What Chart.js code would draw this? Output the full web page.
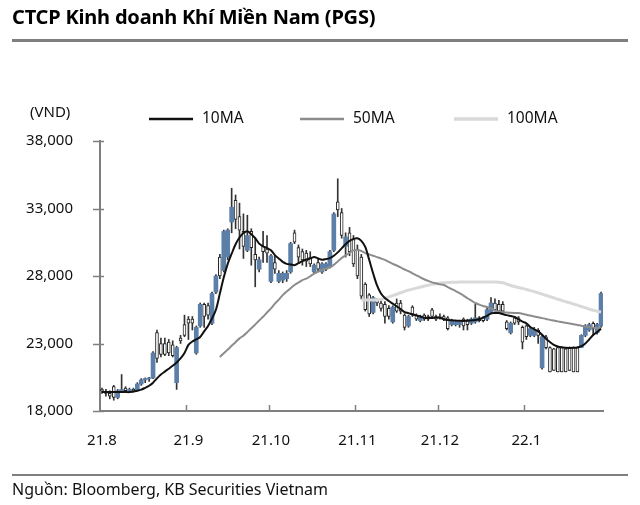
<!DOCTYPE html>
<html><head><meta charset="utf-8">
<script src="https://cdn.jsdelivr.net/npm/chart.js@4.4.0/dist/chart.umd.min.js"></script>
<style>
html,body{margin:0;padding:0;background:#fff;width:640px;height:505px;overflow:hidden;font-family:'Noto Sans',sans-serif;}
#wrap{position:absolute;left:0;top:0;width:640px;height:505px;}
#title{position:absolute;left:12px;top:4px;font-size:20px;font-weight:bold;color:#000;line-height:26px;letter-spacing:-0.2px;}
.rule{position:absolute;left:12px;width:616px;background:#7f7f7f;}
#src{position:absolute;left:12px;top:479px;font-size:16px;color:#111;line-height:20px;}
</style></head>
<body>
<div id="wrap"><canvas id="c" width="640" height="505"></canvas></div>
<div id="title">CTCP Kinh doanh Khí Miền Nam (PGS)</div>
<div class="rule" style="top:39px;height:3px"></div>
<div class="rule" style="top:474px;height:2px"></div>
<div id="src">Nguồn: Bloomberg, KB Securities Vietnam</div>
<script>
// ---- data (VND) ----
const months = ['21.8','21.9','21.10','21.11','21.12','22.1'];
const monthDays = [22,21,22,21,22,20];
const yTicks = [18000,23000,28000,33000,38000];

const openP = [
19600,19400,19300,19800,19000,19500,19700,19500,19600,19500,20000,20300,20400,20450,23800,23000,23000,23100,22900,20100,23400,24400,
24800,24800,22300,24300,25900,25800,24500,26800,29400,28400,29400,32000,33600,32400,31300,29900,31300,29600,28500,30200,30000,
27600,29000,27600,27700,27800,28300,31200,30100,29800,29700,29400,28300,29000,28300,28500,28700,29900,33500,32700,30200,31200,30700,
30000,29400,27400,26600,25300,26200,26000,25900,25600,24600,26000,26000,25100,24300,25700,25100,24700,25100,25000,25500,25000,
25000,25000,24900,24400,24400,24400,24800,24700,24500,24600,24900,24900,24800,25300,26000,25900,25900,24600,23800,24900,24900,24200,
24300,23600,23600,24000,21200,23500,22700,22600,22700,22700,22600,22700,22700,22700,22700,23600,24000,24500,23800,24300];
const highP = [
19700,19600,19500,19900,19600,20700,19800,19700,19700,20100,20400,20450,20500,22400,24000,23400,23400,23300,23200,22800,23600,25100,
25000,25000,24300,26000,26000,26000,26800,28100,29600,31400,31500,34500,34000,33400,32600,32500,31500,30800,29400,31300,31000,
29600,29500,28400,28300,28400,30500,31400,30300,30000,29900,29800,28900,29300,29000,29000,29900,32700,35200,33000,31200,31600,31000,
30300,29600,27500,26700,26500,26300,26300,26100,25800,25800,26300,26200,25200,25100,25800,25200,25100,25200,25100,25600,25100,
25200,25100,25000,24800,24700,24700,24900,24800,24900,25900,25000,25000,25600,26400,26300,26200,26100,24700,24600,25000,25000,24300,
24400,24200,24200,24100,23600,23600,22750,22650,22750,22750,22650,22750,22750,22750,23650,24400,24500,24600,24500,26800];
const lowP = [
19300,19100,18900,18800,18900,19400,19400,19400,19400,19500,19900,20100,20200,20400,21600,22000,22100,22100,22000,19600,23000,23500,
23300,24000,22200,24200,24200,24800,24400,26700,27800,28300,29200,31200,31500,30000,29300,29800,28800,27200,28300,29000,29000,
27500,28200,27500,27500,27600,28200,30400,29000,28800,28700,28700,28200,28300,28200,28400,28600,29800,32400,30800,29400,29500,28700,
27800,26300,25400,25000,25200,25800,25400,24500,24800,24500,25300,25200,24000,24200,25000,24700,24600,24700,24700,24900,24700,
24800,24700,24000,24300,24300,24200,24000,24000,24400,24500,24600,24600,24700,25200,25400,25300,25300,24000,23700,24400,24400,22600,
23300,23500,23500,23000,21100,22600,20900,21000,20900,20900,20900,21000,20900,20900,22700,23500,23900,23600,23700,24200];
const closeP = [
19500,19300,19100,19000,19500,19600,19500,19600,19500,20000,20300,20400,20450,22300,21900,22200,22200,22300,22100,22700,23200,23600,
24500,24500,24200,25900,25000,25100,26700,28000,28000,31300,31400,33100,32200,31400,30200,31000,30100,29200,29200,29800,29700,
29500,28500,28200,28200,28200,30400,30500,29400,29200,29100,28900,28800,28500,28900,28900,29800,32600,32900,31000,30900,29800,28900,
28000,26500,25500,25200,26400,26000,25600,25000,25000,25700,25400,25400,24200,25000,25200,24800,25000,24800,24800,25000,24800,
24900,24800,24100,24700,24600,24600,24300,24400,24800,24900,24700,24700,25500,26000,25500,25400,25400,24100,24500,24500,24600,23100,
23500,24100,24000,23600,23500,22700,20900,21000,20900,20900,20900,21000,20900,20900,23600,24300,24400,24100,24400,26700];
const ma10 = [
19400,19400,19400,19400,19400,19400,19400,19400,19450,19500,19580,19720,19870,20100,20420,20700,20920,21130,21350,21600,21900,22300,
22900,23150,23300,23480,23900,24300,24850,25500,26700,27900,28900,29650,30350,30850,31180,31320,31100,30800,30400,30200,30070,
29900,29550,29300,29050,28900,28850,28800,28950,29100,29220,29300,29400,29300,29200,29250,29330,29500,29750,30050,30350,30600,30750,
30800,30600,30150,29200,28200,27300,26700,26370,26150,25950,25750,25550,25330,25250,25150,25080,25000,24900,24890,24890,24920,
24900,24800,24740,24720,24700,24680,24670,24690,24710,24740,24820,24920,25050,25230,25260,25260,25180,25100,25030,24960,24780,24620,
24500,24220,24050,23900,23650,23350,23110,22900,22780,22720,22690,22670,22680,22710,22800,23000,23300,23630,23850,24100];
const ma50 = [
null,null,null,null,null,null,null,null,null,null,null,null,null,null,null,null,null,null,null,null,null,null,
null,null,null,null,null,null,null,null,22000,22280,22550,22830,23100,23380,23580,23850,24130,24400,24700,24980,25300,
25600,25950,26250,26580,26850,27100,27330,27520,27700,27800,27980,28180,28320,28460,28560,28630,28830,29080,29330,29530,29720,29900,
29920,29850,29700,29600,29500,29400,29300,29190,29050,28900,28780,28640,28480,28360,28200,28050,27900,27760,27640,27530,27460,
27380,27330,27180,27030,26880,26740,26550,26350,26180,26000,25880,25780,25700,25580,25450,25350,25320,25290,25270,25260,25260,25200,
25130,25070,25000,24940,24880,24820,24750,24700,24640,24590,24530,24480,24430,24370,24320,24260,24210,24170,24150,24130];
const ma100 = [
null,null,null,null,null,null,null,null,null,null,null,null,null,null,null,null,null,null,null,null,null,null,
null,null,null,null,null,null,null,null,null,null,null,null,null,null,null,null,null,null,null,null,null,
null,null,null,null,null,null,null,null,null,null,null,null,null,null,null,null,null,null,null,null,null,null,
null,26220,26220,26220,26220,26230,26260,26350,26450,26550,26650,26760,26860,26950,27030,27100,27180,27250,27320,27380,27430,
27480,27500,27520,27530,27540,27550,27550,27560,27560,27560,27560,27560,27560,27550,27550,27540,27500,27400,27300,27220,27150,27080,
27000,26920,26840,26750,26660,26560,26470,26380,26280,26190,26100,26020,25930,25840,25740,25650,25550,25460,25380,25330];

// ---- build category labels ----
const labels = [];
const monthStart = [];
months.forEach((m, k) => { for (let d = 0; d < monthDays[k]; d++) { if (d === 0) monthStart.push(labels.length); labels.push(d === 0 ? m : ''); } });

const BLUE = '#5b7fa9';
const up = openP.map((o, i) => closeP[i] >= o);
const wicks = lowP.map((l, i) => [l, highP[i]]);
const upBodies = openP.map((o, i) => up[i] ? [o, closeP[i]] : null);
const dnBodies = openP.map((o, i) => up[i] ? null : [closeP[i], o]);

const FONT = "'Noto Sans', sans-serif";

const deco = {
  id: 'deco',
  afterDraw(chart) {
    const ctx = chart.ctx, x = chart.scales.x, y = chart.scales.y, a = chart.chartArea;
    ctx.save();
    ctx.strokeStyle = '#7f7f7f'; ctx.lineWidth = 1.5;
    yTicks.forEach(v => { const py = Math.round(y.getPixelForValue(v)) + 0.5; ctx.beginPath(); ctx.moveTo(a.left - 7, py); ctx.lineTo(a.left + 4, py); ctx.stroke(); });
    const half = (x.getPixelForValue(1) - x.getPixelForValue(0)) / 2;
    monthStart.slice(1).forEach(i => { const px = Math.round(x.getPixelForValue(i) - half) + 0.5; ctx.beginPath(); ctx.moveTo(px, a.bottom); ctx.lineTo(px, a.bottom - 6); ctx.stroke(); });
    ctx.fillStyle = '#111'; ctx.font = '15px ' + FONT; ctx.textBaseline = 'middle'; ctx.textAlign = 'left';
    ctx.fillText('(VND)', 30, 113);
    const starts = [149, 300, 454];
    chart.data.datasets.filter(d => d.type === 'line').forEach((d, k) => {
      const sx = starts[k], ly = 119;
      ctx.strokeStyle = d.borderColor; ctx.lineWidth = d.borderWidth + 0.5;
      ctx.beginPath(); ctx.moveTo(sx, ly); ctx.lineTo(sx + 44, ly); ctx.stroke();
      ctx.fillStyle = '#111'; ctx.font = '15.5px ' + FONT;
      ctx.fillText(d.label, sx + 53, ly);
    });
    ctx.restore();
  }
};

new Chart(document.getElementById('c'), {
  data: {
    labels,
    datasets: [
      { type: 'line', label: '10MA', data: ma10, borderColor: '#111111', borderWidth: 2, pointRadius: 0, tension: 0.3, order: 0 },
      { type: 'line', label: '50MA', data: ma50, borderColor: '#8c8c8c', borderWidth: 2, pointRadius: 0, tension: 0.3, order: 0 },
      { type: 'line', label: '100MA', data: ma100, borderColor: '#d9d9d9', borderWidth: 3, pointRadius: 0, tension: 0.3, order: 0 },
      { type: 'bar', label: 'up', data: upBodies, backgroundColor: BLUE, borderWidth: 0, barThickness: 4, grouped: false, order: 1 },
      { type: 'bar', label: 'down', data: dnBodies, backgroundColor: '#ffffff', borderColor: '#222', borderWidth: 1, borderSkipped: false, barThickness: 3, grouped: false, order: 1 },
      { type: 'bar', label: 'wick', data: wicks, backgroundColor: '#333', borderWidth: 0, barThickness: 1, grouped: false, order: 2 }
    ]
  },
  options: {
    responsive: false, animation: false, events: [], devicePixelRatio: 1,
    layout: { padding: { left: 0, right: 37, top: 141, bottom: 0 } },
    plugins: { legend: { display: false }, tooltip: { enabled: false } },
    scales: {
      x: {
        type: 'category', offset: true,
        grid: { display: false },
        border: { display: true, color: '#7f7f7f', width: 2 },
        ticks: { autoSkip: false, maxRotation: 0, padding: 13, color: '#111', font: { family: FONT, size: 15 } },
        afterFit: s => { s.height = 94; }
      },
      y: {
        min: 18000, max: 38000,
        afterBuildTicks: s => { s.ticks = yTicks.map(v => ({ value: v })); },
        grid: { display: false },
        border: { display: true, color: '#7f7f7f', width: 2 },
        ticks: { padding: 19, color: '#111', font: { family: FONT, size: 15 }, callback: v => v.toLocaleString('en-US') },
        afterFit: s => { s.width = 100; }
      }
    }
  },
  plugins: [deco]
});
</script>
</body></html>
